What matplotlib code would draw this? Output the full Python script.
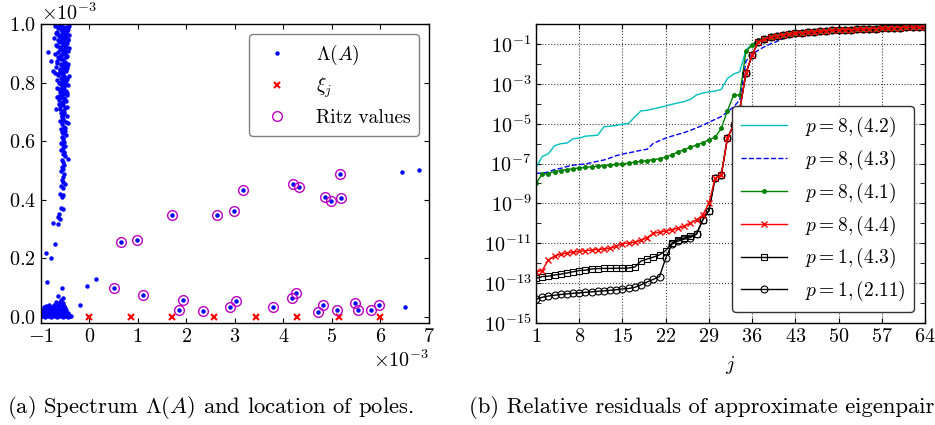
import numpy as np
import matplotlib
matplotlib.use("Agg")
import matplotlib.pyplot as plt
from matplotlib.ticker import FixedLocator, NullFormatter

# ---- panel (a): spectrum, values in units of 1e-3 ----
# vertical band of eigenvalues near Re = -0.55
BAND_RE = [-0.62, -0.55, -0.48, -0.58, -0.51, -0.44, -0.66, -0.53, -0.47, -0.60,
           -0.56, -0.50, -0.43, -0.64, -0.58, -0.52, -0.46, -0.69, -0.55, -0.61,
           -0.49, -0.57, -0.44, -0.85, -0.65, -0.53, -0.59, -0.47, -0.62, -0.79,
           -0.55, -0.50, -0.67, -0.58, -0.45, -0.53, -0.61, -0.75, -0.48, -0.56,
           -0.70, -0.64, -0.52, -0.59, -0.46, -0.54, -0.62, -0.50, -0.57, -0.66,
           -0.53, -0.48, -0.60, -0.55, -0.45, -0.58, -0.51, -0.63, -0.47, -0.56,
           -0.53, -0.60, -0.49, -0.68, -0.55, -0.58, -0.51, -0.45, -0.57, -0.53,
           -0.60, -0.48, -0.43, -0.56, -0.52, -0.58, -0.50, -0.55, -0.47, -0.57,
           -0.53, -0.51, -0.56, -0.49, -0.54, -0.58, -0.52, -0.55, -0.49, -0.44,
           -0.57, -0.53, -0.51, -0.56, -0.54, -0.58, -0.52, -0.55, -0.57, -0.53,
           -0.50, -0.58, -0.54, -0.60, -0.53, -0.57, -0.55, -0.58, -0.62, -0.64,
           -0.61, -0.64, -0.74, -0.70, -0.89, -0.79, -0.86, -0.57, -0.19, -0.05,
           0.13,
           -0.59, -0.52, -0.45, -0.67, -0.50, -0.57, -0.54, -0.63, -0.47, -0.60,
           -0.55, -0.49, -0.65, -0.52, -0.58, -0.46, -0.61, -0.54, -0.50, -0.56,
           -0.59, -0.53, -0.57, -0.48, -0.62, -0.51, -0.55, -0.60, -0.52, -0.56,
           -0.54, -0.49, -0.57, -0.53, -0.59, -0.51,
           -0.70, -0.42, -0.65, -0.46, -0.57, -0.68, -0.41, -0.63, -0.50, -0.72,
           -0.44, -0.60, -0.53, -0.67, -0.42, -0.56, -0.49, -0.71, -0.45, -0.62,
           -0.58, -0.66, -0.43, -0.51, -0.69, -0.47, -0.61, -0.54, -0.64, -0.41,
           -0.55, -0.66, -0.48, -0.60, -0.44, -0.52, -0.63, -0.57, -0.46, -0.59,
           -0.67, -0.50, -0.62, -0.45, -0.56]
BAND_IM = [0.995, 0.990, 0.992, 0.985, 0.980, 0.985, 0.975, 0.972, 0.968, 0.962,
           0.958, 0.955, 0.950, 0.948, 0.942, 0.940, 0.935, 0.930, 0.928, 0.922,
           0.918, 0.912, 0.910, 0.907, 0.905, 0.900, 0.895, 0.890, 0.885, 0.876,
           0.880, 0.872, 0.868, 0.862, 0.858, 0.852, 0.848, 0.840, 0.842, 0.835,
           0.832, 0.826, 0.822, 0.815, 0.812, 0.805, 0.800, 0.795, 0.788, 0.782,
           0.778, 0.772, 0.768, 0.762, 0.758, 0.752, 0.748, 0.742, 0.738, 0.732,
           0.725, 0.720, 0.715, 0.710, 0.705, 0.698, 0.692, 0.688, 0.682, 0.675,
           0.668, 0.665, 0.662, 0.658, 0.650, 0.642, 0.636, 0.628, 0.622, 0.615,
           0.608, 0.598, 0.590, 0.585, 0.578, 0.570, 0.565, 0.556, 0.550, 0.540,
           0.535, 0.528, 0.520, 0.512, 0.505, 0.498, 0.490, 0.478, 0.468, 0.460,
           0.455, 0.448, 0.440, 0.420, 0.415, 0.410, 0.370, 0.372, 0.350, 0.340,
           0.335, 0.318, 0.320, 0.250, 0.220, 0.200, 0.120, 0.100, 0.042, 0.105,
           0.131,
           0.997, 0.987, 0.977, 0.966, 0.964, 0.952, 0.945, 0.938, 0.925, 0.915,
           0.902, 0.897, 0.888, 0.870, 0.865, 0.850, 0.838, 0.828, 0.818, 0.808,
           0.797, 0.784, 0.774, 0.764, 0.755, 0.745, 0.735, 0.712, 0.700, 0.685,
           0.672, 0.646, 0.632, 0.612, 0.595, 0.560,
           0.996, 0.994, 0.988, 0.982, 0.978, 0.970, 0.965, 0.960, 0.957, 0.952,
           0.946, 0.943, 0.933, 0.926, 0.920, 0.916, 0.908, 0.897, 0.893, 0.887,
           0.882, 0.874, 0.866, 0.860, 0.855, 0.846, 0.843, 0.837, 0.829, 0.825,
           0.819, 0.811, 0.806, 0.798, 0.792, 0.786, 0.780, 0.771, 0.765, 0.756,
           0.750, 0.743, 0.728, 0.718, 0.702]

# dense blob close to the real axis
BLOB_RE = [-0.99, -0.95, -0.91, -0.87, -0.83, -0.79, -0.75, -0.71, -0.67, -0.63,
           -0.59, -0.55, -0.51, -0.47, -0.43, -0.39, -0.97, -0.93, -0.89, -0.85,
           -0.81, -0.77, -0.73, -0.69, -0.65, -0.61, -0.57, -0.53, -0.49, -0.45,
           -0.41, -0.98, -0.92, -0.86, -0.80, -0.74, -0.68, -0.62, -0.56, -0.50,
           -0.44, -0.96, -0.89, -0.83, -0.77, -0.71, -0.65, -0.59, -0.53, -0.47,
           -0.94, -0.86, -0.78, -0.70, -0.62, -0.55, -0.49, -0.82, -0.72, -0.64,
           -0.57, -0.51, -0.68, -0.60, -0.54, -0.64, -0.53, -0.58, -0.37, -0.90]
BLOB_IM = [0.002, 0.003, 0.001, 0.002, 0.003, 0.001, 0.002, 0.003, 0.001, 0.002,
           0.003, 0.001, 0.002, 0.002, 0.001, 0.002, 0.009, 0.008, 0.010, 0.007,
           0.009, 0.008, 0.010, 0.008, 0.009, 0.007, 0.010, 0.008, 0.009, 0.008,
           0.007, 0.016, 0.017, 0.015, 0.018, 0.016, 0.017, 0.015, 0.018, 0.016,
           0.014, 0.024, 0.025, 0.023, 0.026, 0.024, 0.025, 0.023, 0.026, 0.022,
           0.033, 0.031, 0.034, 0.032, 0.035, 0.031, 0.030, 0.041, 0.039, 0.042,
           0.040, 0.038, 0.050, 0.052, 0.048, 0.072, 0.066, 0.058, 0.004, 0.036]

# Ritz values (also eigenvalues, shown circled)
RITZ_RE = [0.517, 0.648, 0.978, 1.114, 1.705, 1.856, 1.932, 2.344, 2.639, 2.893,
           2.976, 3.023, 3.175, 3.779, 4.184, 4.204, 4.253, 4.315, 4.719, 4.810,
           4.857, 4.980, 5.104, 5.166, 5.187, 5.475, 5.537, 5.811, 5.970]
RITZ_IM = [0.100, 0.256, 0.264, 0.076, 0.347, 0.023, 0.058, 0.019, 0.347, 0.032,
           0.362, 0.054, 0.434, 0.034, 0.063, 0.453, 0.080, 0.445, 0.015, 0.041,
           0.409, 0.397, 0.025, 0.487, 0.408, 0.049, 0.025, 0.023, 0.040]

# remaining isolated eigenvalues
OTHER_RE = [6.45, 6.79, 6.505]
OTHER_IM = [0.495, 0.502, 0.032]

# poles xi_j on the real axis
POLES_RE = [0.0, 0.857, 1.714, 2.571, 3.429, 4.286, 5.143, 6.0]
POLES_IM = [0.0, 0.0, 0.0, 0.0, 0.0, 0.0, 0.0, 0.0]

# ---- panel (b): log10 of relative residuals, j = 1..64 ----
J = list(range(1, 65))
TAIL = [-0.75, -0.66, -0.58, -0.53, -0.49, -0.45, -0.42, -0.40, -0.37, -0.35,
        -0.32, -0.30, -0.28, -0.27, -0.26, -0.24, -0.23, -0.22, -0.21, -0.20,
        -0.19, -0.17, -0.16, -0.15, -0.14, -0.13, -0.12]  # j = 38..64

RES_P8_42 = [-7.20, -6.65, -6.50, -6.10, -6.00, -5.97, -5.75, -5.72, -5.62, -5.60,
             -5.57, -5.15, -5.12, -5.08, -5.02, -4.98, -4.65, -4.35, -4.32, -4.25,
             -4.18, -4.10, -4.02, -3.95, -3.88, -3.77, -3.55, -3.45, -3.40, -3.35,
             -3.27, -2.72, -2.50, -2.38, -1.29, -1.00, -0.85] + TAIL
RES_P8_43 = [-7.49, -7.48, -7.42, -7.30, -7.24, -7.15, -7.08, -7.05, -7.02, -6.95,
             -6.88, -6.82, -6.72, -6.60, -6.52, -6.46, -6.40, -6.33, -6.28, -5.98,
             -5.85, -5.72, -5.62, -5.53, -5.44, -5.33, -5.20, -5.08, -4.92, -4.78,
             -4.64, -4.40, -4.15, -3.80, -1.85, -1.50, -1.30, -1.12, -0.98, -0.86,
             -0.72, -0.60, -0.50] + TAIL[6:]
RES_P8_41 = [-7.99, -7.53, -7.50, -7.40, -7.35, -7.30, -7.26, -7.22, -7.19, -7.16,
             -7.13, -7.10, -7.07, -7.04, -7.01, -6.98, -6.93, -6.89, -6.85, -6.80,
             -6.76, -6.68, -6.55, -6.42, -6.30, -6.18, -6.07, -5.95, -5.80, -5.68,
             -5.23, -4.35, -3.55, -3.55, -1.35, -1.05, -0.80] + TAIL
RES_P8_44 = [-12.43, -12.38, -11.84, -11.65, -11.55, -11.50, -11.45, -11.42, -11.38, -11.35,
             -11.32, -11.30, -11.26, -11.15, -11.02, -11.00, -10.95, -10.86, -10.72, -10.50,
             -10.45, -10.40, -10.32, -10.25, -10.15, -10.00, -9.83, -9.58, -9.00, -7.74,
             -7.58, -5.72, -5.06, -4.28, -2.46, -1.54, -0.87] + TAIL
RES_P1_43 = [-12.77, -12.68, -12.66, -12.60, -12.56, -12.50, -12.44, -12.38, -12.36, -12.30,
             -12.28, -12.27, -12.27, -12.26, -12.26, -12.25, -12.20, -11.90, -11.80, -11.70,
             -11.59, -11.37, -11.00, -10.82, -10.74, -10.66, -10.52, -9.83, -9.36, -7.74,
             -7.58, -5.72, -5.06, -4.28, -2.46, -1.54, -0.87] + TAIL
RES_P1_211 = [-13.82, -13.72, -13.66, -13.62, -13.58, -13.55, -13.52, -13.50, -13.47, -13.45,
              -13.42, -13.40, -13.37, -13.34, -13.30, -13.28, -13.22, -13.10, -12.95, -12.82,
              -12.68, -11.76, -11.05, -10.90, -10.80, -10.72, -10.55, -9.83, -9.36, -7.74,
              -7.58, -5.72, -5.06, -4.28, -2.46, -1.54, -0.87] + TAIL

plt.rcParams.update({
    "font.family": ["cmr10", "DejaVu Serif"],
    "mathtext.fontset": "cm",
    "axes.formatter.use_mathtext": True,
    "axes.unicode_minus": False,
    "font.size": 14.5,
    "legend.fontsize": 14,
    "xtick.direction": "in",
    "ytick.direction": "in",
    "xtick.top": True,
    "ytick.right": True,
    "axes.linewidth": 1.0,
})

fig = plt.figure(figsize=(9.35, 4.25), dpi=100)

# ---------------- panel (a) ----------------
ax1 = fig.add_axes([0.0435, 0.2407, 0.4153, 0.702])
scale = 1e-3
eig_re = np.array(BAND_RE + BLOB_RE + RITZ_RE + OTHER_RE) * scale
eig_im = np.array(BAND_IM + BLOB_IM + RITZ_IM + OTHER_IM) * scale
ax1.plot(eig_re, eig_im, ls="none", marker="o", ms=3.2, mfc="b", mec="none",
         label=r"$\Lambda(A)$")
ax1.plot(np.array(POLES_RE) * scale, np.array(POLES_IM) * scale, ls="none",
         marker="x", ms=4.5, mew=1.5, color="r", label=r"$\xi_j$", clip_on=False)
ax1.plot(np.array(RITZ_RE) * scale, np.array(RITZ_IM) * scale, ls="none",
         marker="o", ms=7, mew=1.0, mfc="none", mec="m", label="Ritz values")
ax1.set_xlim(-1e-3, 7e-3)
ax1.set_ylim(-0.02e-3, 1.0e-3)
ax1.set_xticks(np.arange(-1, 8) * scale)
ax1.set_yticks(np.arange(0, 1.01, 0.2) * scale)
ax1.ticklabel_format(axis="both", style="sci", scilimits=(0, 0))
ax1.legend(loc="upper right", fancybox=True, framealpha=1, edgecolor="0.5",
           handlelength=2.0, handletextpad=1.0, labelspacing=0.45,
           borderaxespad=0.5, borderpad=0.45)

# ---------------- panel (b) ----------------
ax2 = fig.add_axes([0.5733, 0.2407, 0.416, 0.702])
jj = np.array(J)
series = [
    (RES_P8_42, dict(color="c", ls="-", lw=1.0), r"$p=8, (4.2)$"),
    (RES_P8_43, dict(color="b", ls="--", lw=1.0), r"$p=8, (4.3)$"),
    (RES_P8_41, dict(color="g", ls="-", lw=1.0, marker=".", ms=5), r"$p=8, (4.1)$"),
    (RES_P1_211, dict(color="k", ls="-", lw=1.0, marker="o", ms=5, mfc="none", mew=0.8),
     r"$p=1, (2.11)$"),
    (RES_P1_43, dict(color="k", ls="-", lw=1.0, marker="s", ms=5, mfc="none", mew=0.8),
     r"$p=1, (4.3)$"),
    (RES_P8_44, dict(color="r", ls="-", lw=1.0, marker="x", ms=4.5, mew=1.0),
     r"$p=8, (4.4)$"),
]
handles = {}
for values, style, label in series:
    (line,) = ax2.semilogy(jj, 10.0 ** np.array(values), label=label, **style)
    handles[label] = line
order = [r"$p=8, (4.2)$", r"$p=8, (4.3)$", r"$p=8, (4.1)$", r"$p=8, (4.4)$",
         r"$p=1, (4.3)$", r"$p=1, (2.11)$"]
ax2.set_xlim(1, 64)
ax2.set_ylim(1e-15, 1.0)
ax2.set_xticks([1, 8, 15, 22, 29, 36, 43, 50, 57, 64])
ax2.yaxis.set_major_locator(FixedLocator([10.0 ** k for k in range(-15, 0, 2)]))
ax2.yaxis.set_minor_locator(FixedLocator([10.0 ** k for k in range(-14, 0, 2)]))
ax2.yaxis.set_minor_formatter(NullFormatter())
ax2.tick_params(which="minor", length=3.5)
ax2.grid(True, which="major", ls=":", color="0.25", lw=0.8)
ax2.set_xlabel(r"$j$", labelpad=6)
ax2.legend([handles[k] for k in order], order, loc="lower right", fancybox=True,
           framealpha=1, edgecolor="0.2", handlelength=2.4, handletextpad=0.9,
           labelspacing=0.45, borderaxespad=0.55, borderpad=0.45)

fig.text(0.008, 0.042, r"(a) Spectrum $\Lambda(A)$ and location of poles.",
         ha="left", va="center", fontsize=16.3)
fig.text(0.502, 0.042, "(b) Relative residuals of approximate eigenpairs",
         ha="left", va="center", fontsize=16.3)

fig.savefig("out.png", dpi=100)
